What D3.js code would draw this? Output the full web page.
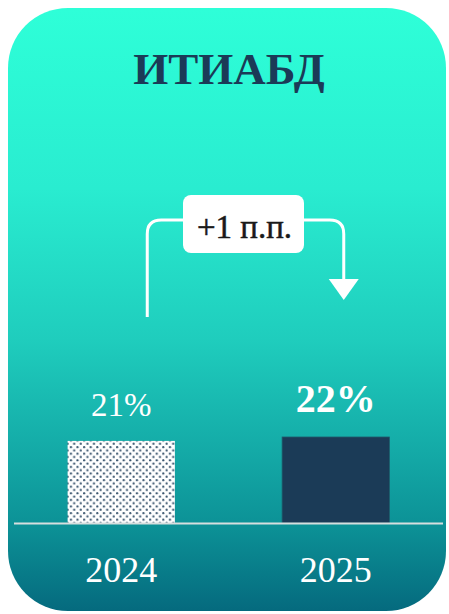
<!DOCTYPE html>
<html><head><meta charset="utf-8">
<script src="https://cdn.jsdelivr.net/npm/d3@7"></script>
<style>html,body{margin:0;padding:0;background:#fff;}svg{display:block;}</style>
</head><body>
<svg id="c" width="449" height="614"></svg>
<script>
const title = "ИТИАБД";
const years = ["2024", "2025"];
const values = [21, 22];
const valueLabels = ["21%", "22%"];
const changeLabel = "+1 п.п.";

const svg = d3.select("#c");
const defs = svg.append("defs");
const grad = defs.append("linearGradient").attr("id","bg").attr("x1",0).attr("y1",0).attr("x2",0).attr("y2",1);
[[0,"#2effd8"],[0.3,"#29ecd0"],[0.55,"#1fcdbd"],[0.75,"#13a7a5"],[0.86,"#0c9196"],[1,"#056a7e"]].forEach(([o,c])=>grad.append("stop").attr("offset",o).attr("stop-color",c));
const pat = defs.append("pattern").attr("id","dots").attr("patternUnits","userSpaceOnUse").attr("width",6.6).attr("height",6.6);
pat.append("rect").attr("width",6.6).attr("height",6.6).attr("fill","#ffffff");
pat.append("circle").attr("cx",1.6).attr("cy",1.6).attr("r",1.1).attr("fill","#34506a");
pat.append("circle").attr("cx",4.9).attr("cy",4.9).attr("r",1.1).attr("fill","#34506a");

svg.append("rect").attr("x",8).attr("y",8).attr("width",438).attr("height",603).attr("rx",60).attr("ry",60).attr("fill","url(#bg)");

svg.append("text").attr("x",229).attr("y",84).attr("text-anchor","middle")
  .attr("font-family","Liberation Serif, serif").attr("font-weight","bold").attr("font-size",45)
  .attr("fill","#1b3a57").text(title);

const x = d3.scaleBand().domain(years).range([14,443]).paddingInner(0.5).paddingOuter(0.25);
const y = d3.scaleLinear().domain([0,22]).range([523,437]);

svg.selectAll("rect.bar").data(years).enter().append("rect").attr("class","bar")
  .attr("x",d=>x(d)).attr("width",x.bandwidth())
  .attr("y",(d,i)=>y(values[i])).attr("height",(d,i)=>y(0)-y(values[i]))
  .attr("fill",(d,i)=>i===0?"url(#dots)":"#1b3b57")
  .attr("stroke",(d,i)=>i===0?"none":"#1f5a6a").attr("stroke-width",0.8);

svg.append("line").attr("x1",14).attr("x2",443).attr("y1",y(0)+0.5).attr("y2",y(0)+0.5)
  .attr("stroke","#d6dede").attr("stroke-width",2);

svg.selectAll("text.val").data(years).enter().append("text").attr("class","val")
  .attr("x",d=>x(d)+x.bandwidth()/2)
  .attr("y",(d,i)=>y(values[i])-25)
  .attr("text-anchor","middle").attr("font-family","Liberation Serif, serif")
  .attr("font-weight",(d,i)=>i===1?"bold":"normal")
  .attr("font-size",(d,i)=>i===1?40:33)
  .attr("fill","#ffffff").text((d,i)=>valueLabels[i]);

svg.selectAll("text.yr").data(years).enter().append("text").attr("class","yr")
  .attr("x",d=>x(d)+x.bandwidth()/2).attr("y",582)
  .attr("text-anchor","middle").attr("font-family","Liberation Serif, serif")
  .attr("font-size",36).attr("fill","#ffffff").text(d=>d);

// change connector
const c1 = x(years[0])+x.bandwidth()/2 + 26;
const c2 = x(years[1])+x.bandwidth()/2 + 8;
const hy = 220, r = 14;
const boxX = 183, boxW = 121, boxY = 195, boxH = 58;
svg.append("path").attr("fill","none").attr("stroke","#ffffff").attr("stroke-width",3)
  .attr("d",`M${c1},317 L${c1},${hy+r} Q${c1},${hy} ${c1+r},${hy} L${boxX+2},${hy}`);
svg.append("path").attr("fill","none").attr("stroke","#ffffff").attr("stroke-width",3)
  .attr("d",`M${boxX+boxW-2},${hy} L${c2-r},${hy} Q${c2},${hy} ${c2},${hy+r} L${c2},281`);
svg.append("path").attr("fill","#ffffff")
  .attr("d",`M${c2-15},279 L${c2+15},279 L${c2},300 Z`);
svg.append("rect").attr("x",boxX).attr("y",boxY).attr("width",boxW).attr("height",boxH).attr("rx",8).attr("fill","#ffffff");
svg.append("text").attr("x",boxX+boxW/2+1).attr("y",238).attr("text-anchor","middle")
  .attr("font-family","Liberation Serif, serif").attr("font-size",33)
  .attr("stroke","#1a1a1a").attr("stroke-width",0.5)
  .attr("fill","#1a1a1a").text(changeLabel);
</script>
</body></html>
